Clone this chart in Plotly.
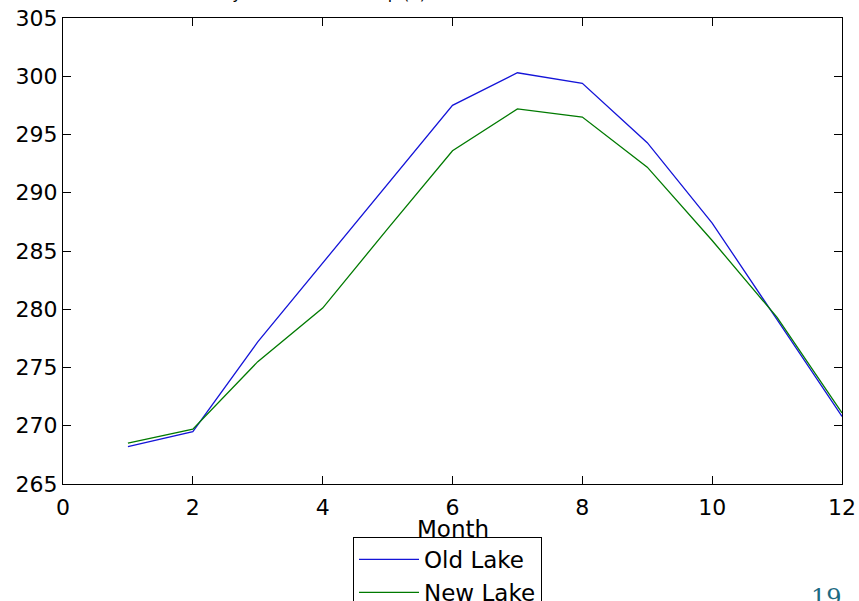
import plotly.graph_objects as go

months = [1, 2, 3, 4, 5, 6, 7, 8, 9, 10, 11, 12]
old_lake = [268.2, 269.5, 277.2, 284.0, 290.8, 297.5, 300.3, 299.4, 294.3, 287.4, 279.1, 270.8]
new_lake = [268.5, 269.7, 275.5, 280.1, 286.9, 293.6, 297.2, 296.5, 292.2, 285.9, 279.3, 271.1]
x_ticks = [0, 2, 4, 6, 8, 10, 12]
y_ticks = [265, 270, 275, 280, 285, 290, 295, 300, 305]

W, H = 859, 601
L, R, T, B = 63, 17, 17.5, 117
pw, ph = W - L - R, H - T - B

fig = go.Figure()
fig.add_trace(go.Scatter(x=months, y=old_lake, mode="lines", name="Old Lake",
                         line=dict(color="#1414d8", width=1.3)))
fig.add_trace(go.Scatter(x=months, y=new_lake, mode="lines", name="New Lake",
                         line=dict(color="#007a00", width=1.3)))

axis_common = dict(showgrid=False, zeroline=False, showline=True, linecolor="black",
                   linewidth=1, mirror="allticks", ticks="inside", ticklen=8,
                   tickcolor="black", tickwidth=1,
                   tickfont=dict(family="DejaVu Sans", size=22, color="black"))
fig.update_xaxes(range=[0, 12], tickvals=x_ticks, ticktext=[str(v) for v in x_ticks],
                 ticklabelstandoff=4, **axis_common)
fig.update_yaxes(range=[265, 305], tickvals=y_ticks, ticktext=[str(v) for v in y_ticks],
                 **axis_common)

def px_x(px):
    return (px - L) / pw

def px_y(py):
    return (H - B - py) / ph

fig.add_annotation(text="Month", xref="paper", yref="paper", x=0.5, y=px_y(514),
                   xanchor="center", yanchor="top", showarrow=False,
                   font=dict(family="DejaVu Sans", size=23, color="black"))
fig.add_annotation(text="Mean Monthly Lake Surface Temp (K)", xref="paper", yref="paper",
                   x=px_x(277), y=px_y(-7), xanchor="center", yanchor="middle", showarrow=False,
                   font=dict(family="DejaVu Sans", size=16, color="black"))
fig.add_annotation(text="19", xref="paper", yref="paper", x=px_x(826), y=px_y(582),
                   xanchor="center", yanchor="top", showarrow=False,
                   font=dict(family="DejaVu Serif", size=24, color="#1d6a82"))

fig.update_layout(
    width=W, height=H,
    margin=dict(l=L, r=R, t=T, b=B, pad=0, autoexpand=False),
    paper_bgcolor="white", plot_bgcolor="white",
    showlegend=True,
    legend=dict(x=px_x(353), y=px_y(537), xanchor="left", yanchor="top",
                bordercolor="black", borderwidth=1, bgcolor="white",
                font=dict(family="DejaVu Sans", size=23, color="black"),
                itemwidth=60, tracegroupgap=0,
                entrywidth=200, entrywidthmode="pixels"),
)

fig.write_html("out.html")
